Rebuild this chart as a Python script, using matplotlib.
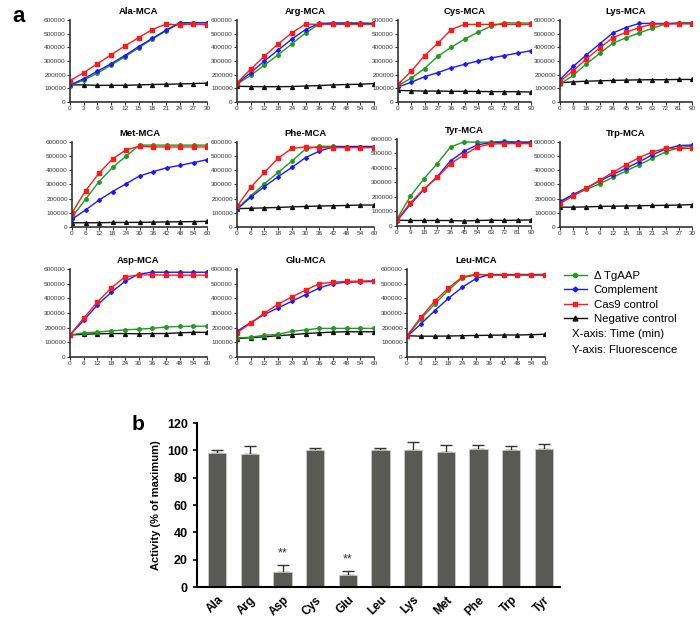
import matplotlib
matplotlib.use('Agg')
import matplotlib.pyplot as plt
from matplotlib.lines import Line2D
import numpy as np

plt.rcParams['font.family'] = ['Liberation Sans', 'DejaVu Sans']

# fluorescence curves, one block per substrate: time points + 4 series
ala_t = [0, 3, 6, 9, 12, 15, 18, 21, 24, 27, 30]
ala_ko = [120000, 160000, 210000, 270000, 330000, 395000, 460000, 520000, 575000, 580000, 580000]
ala_comp = [125000, 170000, 225000, 280000, 340000, 405000, 465000, 525000, 580000, 580000, 580000]
ala_cas9 = [155000, 215000, 280000, 345000, 410000, 470000, 530000, 570000, 565000, 570000, 565000]
ala_neg = [125000, 125000, 122000, 122000, 122000, 125000, 128000, 130000, 132000, 135000, 138000]

arg_t = [0, 6, 12, 18, 24, 30, 36, 42, 48, 54, 60]
arg_ko = [130000, 195000, 270000, 345000, 425000, 505000, 570000, 575000, 578000, 578000, 575000]
arg_comp = [135000, 215000, 300000, 380000, 460000, 530000, 575000, 578000, 578000, 575000, 575000]
arg_cas9 = [140000, 240000, 335000, 425000, 505000, 570000, 568000, 568000, 568000, 568000, 568000]
arg_neg = [115000, 113000, 112000, 112000, 113000, 117000, 120000, 125000, 128000, 130000, 135000]

cys_t = [0, 9, 18, 27, 36, 45, 54, 63, 72, 81, 90]
cys_ko = [120000, 175000, 245000, 335000, 400000, 460000, 510000, 555000, 580000, 578000, 578000]
cys_comp = [110000, 145000, 185000, 215000, 250000, 275000, 300000, 322000, 340000, 358000, 375000]
cys_cas9 = [130000, 225000, 340000, 430000, 530000, 568000, 568000, 568000, 568000, 568000, 568000]
cys_neg = [85000, 82000, 80000, 80000, 78000, 78000, 77000, 76000, 76000, 75000, 73000]

lys_t = [0, 9, 18, 27, 36, 45, 54, 63, 72, 81, 90]
lys_ko = [130000, 195000, 280000, 355000, 430000, 470000, 505000, 540000, 570000, 580000, 580000]
lys_comp = [165000, 260000, 345000, 425000, 505000, 545000, 575000, 575000, 575000, 575000, 575000]
lys_cas9 = [150000, 230000, 315000, 395000, 470000, 510000, 545000, 570000, 570000, 572000, 572000]
lys_neg = [140000, 148000, 152000, 155000, 158000, 160000, 162000, 163000, 163000, 165000, 165000]

met_t = [0, 6, 12, 18, 24, 30, 36, 42, 48, 54, 60]
met_ko = [70000, 195000, 320000, 420000, 500000, 578000, 578000, 578000, 578000, 578000, 578000]
met_comp = [55000, 120000, 190000, 250000, 305000, 360000, 390000, 418000, 435000, 455000, 475000]
met_cas9 = [100000, 255000, 380000, 480000, 545000, 570000, 565000, 565000, 565000, 565000, 565000]
met_neg = [30000, 30000, 30000, 32000, 32000, 33000, 34000, 36000, 37000, 38000, 40000]

phe_t = [0, 6, 12, 18, 24, 30, 36, 42, 48, 54, 60]
phe_ko = [130000, 220000, 305000, 385000, 465000, 550000, 570000, 570000, 568000, 568000, 568000]
phe_comp = [125000, 210000, 285000, 355000, 420000, 490000, 535000, 565000, 568000, 568000, 568000]
phe_cas9 = [145000, 280000, 385000, 485000, 555000, 565000, 560000, 560000, 560000, 560000, 560000]
phe_neg = [130000, 132000, 135000, 138000, 142000, 145000, 148000, 150000, 152000, 155000, 155000]

tyr_t = [0, 9, 18, 27, 36, 45, 54, 63, 72, 81, 90]
tyr_ko = [50000, 205000, 325000, 430000, 545000, 580000, 578000, 578000, 585000, 578000, 578000]
tyr_comp = [35000, 150000, 250000, 340000, 450000, 515000, 560000, 575000, 578000, 578000, 578000]
tyr_cas9 = [40000, 160000, 255000, 335000, 430000, 490000, 545000, 565000, 568000, 568000, 568000]
tyr_neg = [40000, 38000, 38000, 38000, 38000, 35000, 38000, 40000, 38000, 40000, 42000]

trp_t = [0, 3, 6, 9, 12, 15, 18, 21, 24, 27, 30]
trp_ko = [175000, 225000, 265000, 305000, 350000, 395000, 440000, 485000, 530000, 560000, 570000]
trp_comp = [180000, 230000, 275000, 325000, 370000, 415000, 460000, 510000, 550000, 575000, 578000]
trp_cas9 = [165000, 220000, 275000, 330000, 385000, 440000, 490000, 530000, 555000, 555000, 555000]
trp_neg = [140000, 140000, 142000, 145000, 147000, 148000, 150000, 152000, 153000, 155000, 158000]

asp_t = [0, 6, 12, 18, 24, 30, 36, 42, 48, 54, 60]
asp_ko = [150000, 165000, 170000, 178000, 185000, 190000, 195000, 205000, 208000, 210000, 210000]
asp_comp = [150000, 250000, 355000, 440000, 515000, 565000, 578000, 578000, 578000, 578000, 578000]
asp_cas9 = [150000, 265000, 375000, 470000, 545000, 560000, 560000, 558000, 558000, 558000, 558000]
asp_neg = [150000, 155000, 158000, 160000, 160000, 158000, 160000, 160000, 165000, 168000, 168000]

glu_t = [0, 6, 12, 18, 24, 30, 36, 42, 48, 54, 60]
glu_ko = [130000, 135000, 148000, 155000, 175000, 185000, 195000, 195000, 195000, 195000, 195000]
glu_comp = [175000, 235000, 290000, 335000, 380000, 425000, 470000, 500000, 510000, 512000, 515000]
glu_cas9 = [165000, 230000, 300000, 360000, 410000, 455000, 500000, 510000, 515000, 518000, 520000]
glu_neg = [125000, 132000, 138000, 145000, 152000, 160000, 165000, 170000, 172000, 172000, 172000]

leu_t = [0, 6, 12, 18, 24, 30, 36, 42, 48, 54, 60]
leu_ko = [140000, 260000, 360000, 455000, 540000, 560000, 562000, 562000, 562000, 562000, 562000]
leu_comp = [140000, 225000, 315000, 400000, 475000, 535000, 562000, 562000, 562000, 562000, 562000]
leu_cas9 = [145000, 270000, 380000, 470000, 545000, 565000, 558000, 558000, 558000, 558000, 558000]
leu_neg = [145000, 142000, 142000, 143000, 145000, 147000, 148000, 150000, 150000, 152000, 155000]

# panel b
substrates = ['Ala', 'Arg', 'Asp', 'Cys', 'Glu', 'Leu', 'Lys', 'Met', 'Phe', 'Trp', 'Tyr']
activity = [98, 97, 11, 100, 9, 100, 100, 99, 101, 100, 101]
activity_err = [2, 6, 5, 2, 2.5, 2, 6, 5, 3, 3.5, 4]
signif = {'Asp': '**', 'Glu': '**'}

panels = [
    ('Ala-MCA', ala_t, ala_ko, ala_comp, ala_cas9, ala_neg, (70, 20, 207, 102)),
    ('Arg-MCA', arg_t, arg_ko, arg_comp, arg_cas9, arg_neg, (237, 20, 374, 102)),
    ('Cys-MCA', cys_t, cys_ko, cys_comp, cys_cas9, cys_neg, (398, 20, 531, 102)),
    ('Lys-MCA', lys_t, lys_ko, lys_comp, lys_cas9, lys_neg, (560, 20, 692, 102)),
    ('Met-MCA', met_t, met_ko, met_comp, met_cas9, met_neg, (72, 142, 207, 227)),
    ('Phe-MCA', phe_t, phe_ko, phe_comp, phe_cas9, phe_neg, (237, 142, 374, 227)),
    ('Tyr-MCA', tyr_t, tyr_ko, tyr_comp, tyr_cas9, tyr_neg, (397, 139, 531, 226)),
    ('Trp-MCA', trp_t, trp_ko, trp_comp, trp_cas9, trp_neg, (560, 142, 692, 227)),
    ('Asp-MCA', asp_t, asp_ko, asp_comp, asp_cas9, asp_neg, (70, 269, 207, 357)),
    ('Glu-MCA', glu_t, glu_ko, glu_comp, glu_cas9, glu_neg, (237, 269, 374, 357)),
    ('Leu-MCA', leu_t, leu_ko, leu_comp, leu_cas9, leu_neg, (407, 269, 545, 357)),
]

W, H = 700, 617
GREEN, BLUE, RED, BLACK = '#1f9a1f', '#1a1aff', '#ff1a1a', '#111111'
AXC = '#333333'


def px_axes(fig, box):
    x0, y0, x1, y1 = box
    return fig.add_axes([x0 / W, 1 - y1 / H, (x1 - x0) / W, (y1 - y0) / H])


fig = plt.figure(figsize=(7, 6.17), dpi=100)

for title, t, ko, comp, cas9, neg, box in panels:
    ax = px_axes(fig, box)
    ax.plot(t, neg, color=BLACK, marker='^', ms=2.8, lw=1)
    ax.plot(t, ko, color=GREEN, marker='o', ms=2.5, lw=1)
    ax.plot(t, comp, color=BLUE, marker='D', ms=2.0, lw=1)
    ax.plot(t, cas9, color=RED, marker='s', ms=2.5, lw=1)
    ax.set_ylim(0, 600000)
    ax.set_xlim(t[0], t[-1])
    ax.set_yticks(np.arange(0, 600001, 100000))
    ax.set_yticklabels([str(v) for v in range(0, 600001, 100000)])
    ax.set_xticks(t)
    ax.tick_params(labelsize=4.6, length=2, width=0.8, pad=1, colors=AXC)
    for s in ['top', 'right']:
        ax.spines[s].set_visible(False)
    for s in ['left', 'bottom']:
        ax.spines[s].set_color(AXC)
        ax.spines[s].set_linewidth(1.2)
    ax.set_title(title, fontsize=6.8, fontweight='bold', pad=4)

# legend for panel a
handles = [
    Line2D([], [], color=GREEN, marker='o', ms=3, lw=1),
    Line2D([], [], color=BLUE, marker='D', ms=2.5, lw=1),
    Line2D([], [], color=RED, marker='s', ms=3, lw=1),
    Line2D([], [], color=BLACK, marker='^', ms=3.5, lw=1),
]
fig.legend(handles, ['\u0394 TgAAP', 'Complement', 'Cas9 control', 'Negative control'],
           loc='upper left', bbox_to_anchor=(564 / W, 1 - 271 / H), frameon=False,
           fontsize=8.2, handlelength=2.0, handletextpad=0.6, labelspacing=0.38,
           borderpad=0, borderaxespad=0)
fig.text(572 / W, 1 - 334 / H, 'X-axis: Time (min)', fontsize=8.2, va='center')
fig.text(572 / W, 1 - 350 / H, 'Y-axis: Fluorescence', fontsize=8.2, va='center')

fig.text(12 / W, 1 - 16 / H, 'a', fontsize=16, fontweight='bold', va='center')
fig.text(132 / W, 1 - 424 / H, 'b', fontsize=15, fontweight='bold', va='center')

# panel b bar chart
bx = px_axes(fig, (197, 423, 560, 587))
pos = np.arange(len(substrates))
bx.bar(pos, activity, width=0.56, color='#5a5a55', edgecolor='#c8c8c8', linewidth=0.6, zorder=2)
bx.errorbar(pos, activity, yerr=[np.zeros(len(activity_err)), activity_err], fmt='none',
            ecolor='#333333', elinewidth=1, capsize=4, capthick=1, zorder=1)
for i, name in enumerate(substrates):
    if name in signif:
        bx.text(i, activity[i] + activity_err[i] + 4, signif[name], ha='center',
                va='bottom', fontsize=9, color='#333333')
bx.set_xlim(-0.62, 10.5)
bx.set_ylim(0, 120)
bx.set_yticks(range(0, 121, 20))
bx.set_xticks(pos)
bx.set_xticklabels(substrates, rotation=45, ha='right', rotation_mode='anchor', fontweight='bold')
bx.tick_params(axis='x', length=0, labelsize=8.5, pad=5)
bx.tick_params(axis='y', labelsize=9, length=3, width=1.2)
for lbl in bx.get_yticklabels():
    lbl.set_fontweight('bold')
for s in ['top', 'right']:
    bx.spines[s].set_visible(False)
for s in ['left', 'bottom']:
    bx.spines[s].set_linewidth(1.5)
bx.set_ylabel('Activity (% of maximum)', fontsize=8, fontweight='bold')

fig.savefig('out.png', dpi=100)
